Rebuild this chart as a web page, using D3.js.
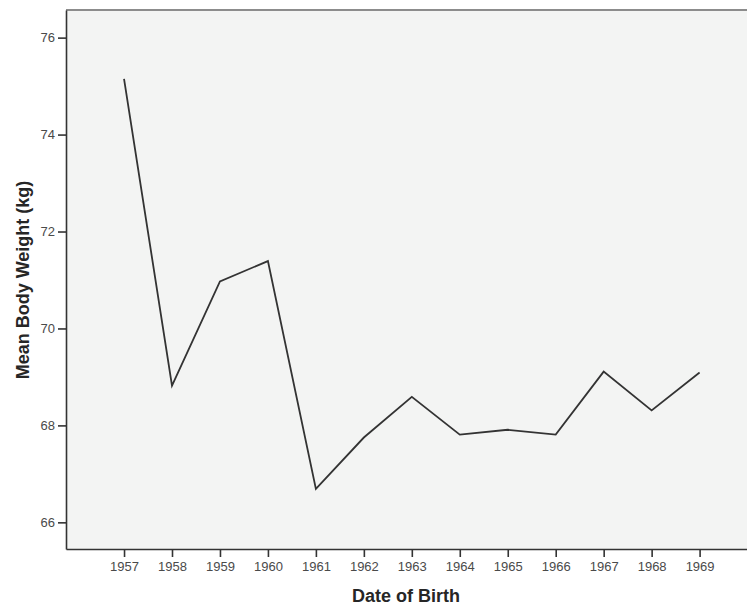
<!DOCTYPE html>
<html>
<head>
<meta charset="utf-8">
<script src="https://cdn.jsdelivr.net/npm/d3@7"></script>
<style>
  html, body { margin: 0; padding: 0; background: #ffffff; }
  svg { display: block; }
  .tick text { font-family: "Liberation Sans", Arial, sans-serif; font-size: 13px; fill: #4a4a4a; }
  .axis-title { font-family: "Liberation Sans", Arial, sans-serif; font-size: 18px; font-weight: bold; fill: #262626; }
</style>
</head>
<body>
<svg id="chart" width="747" height="608"></svg>
<script>
// Mean body weight by year of birth
const years = [1957, 1958, 1959, 1960, 1961, 1962, 1963, 1964, 1965, 1966, 1967, 1968, 1969];
const meanWeight = [75.15, 68.82, 70.97, 71.39, 66.69, 67.75, 68.59, 67.81, 67.91, 67.81, 69.11, 68.31, 69.09];
const yTicks = [66, 68, 70, 72, 74, 76];

const W = 747, H = 608;
const plot = { left: 66, top: 10, right: 749, bottom: 549 };

const svg = d3.select("#chart");

const x = d3.scaleLinear()
  .domain([1955.79, 1970.03])
  .range([plot.left, plot.right]);

const y = d3.scaleLinear()
  .domain([65.45, 76.57])
  .range([plot.bottom, plot.top]);

// plot background
svg.append("rect")
  .attr("x", plot.left).attr("y", plot.top)
  .attr("width", plot.right - plot.left)
  .attr("height", plot.bottom - plot.top)
  .attr("fill", "#f3f4f3");

// top frame edge
svg.append("line")
  .attr("x1", plot.left).attr("x2", plot.right)
  .attr("y1", plot.top).attr("y2", plot.top)
  .attr("stroke", "#8c8c8c").attr("stroke-width", 2);

// y axis
const yAxis = svg.append("g")
  .attr("transform", `translate(${plot.left},0)`)
  .call(d3.axisLeft(y).tickValues(yTicks).tickFormat(d3.format("d")).tickSize(8).tickPadding(3).tickSizeOuter(0));
yAxis.select(".domain").attr("stroke", "#333").attr("stroke-width", 1.6);
yAxis.selectAll(".tick line").attr("stroke", "#333").attr("stroke-width", 1.6);

// x axis
const xAxis = svg.append("g")
  .attr("transform", `translate(0,${plot.bottom})`)
  .call(d3.axisBottom(x).tickValues(years).tickFormat(d3.format("d")).tickSize(8).tickPadding(5).tickSizeOuter(0));
xAxis.select(".domain").attr("stroke", "#333").attr("stroke-width", 1.6);
xAxis.selectAll(".tick line").attr("stroke", "#333").attr("stroke-width", 1.6);

// data line
const line = d3.line()
  .x((d, i) => x(years[i]))
  .y(d => y(d));

svg.append("path")
  .datum(meanWeight)
  .attr("d", line)
  .attr("fill", "none")
  .attr("stroke", "#333")
  .attr("stroke-width", 1.8)
  .attr("stroke-linejoin", "miter");

// axis titles
svg.append("text")
  .attr("class", "axis-title")
  .attr("x", 406).attr("y", 602)
  .attr("text-anchor", "middle")
  .text("Date of Birth");

svg.append("text")
  .attr("class", "axis-title")
  .attr("transform", "translate(29,280) rotate(-90)")
  .attr("text-anchor", "middle")
  .text("Mean Body Weight (kg)");
</script>
</body>
</html>
